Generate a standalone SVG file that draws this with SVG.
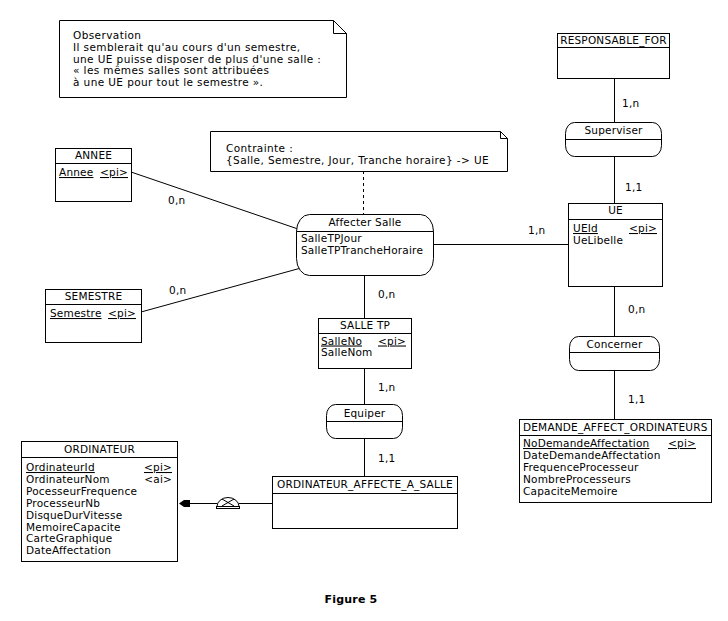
<svg xmlns="http://www.w3.org/2000/svg" width="728" height="621" viewBox="0 0 728 621">
<style>
text{font-family:"DejaVu Sans",Verdana,sans-serif;font-size:10.5px;letter-spacing:0.2px;fill:#000}
.n{letter-spacing:0.4px}
.c{text-anchor:middle}
.e{text-anchor:end}
.u{text-decoration:underline}
.box{fill:#fff;stroke:#000;stroke-width:1}
.ln{stroke:#000;stroke-width:1;fill:none}
.fig{font-weight:bold;font-size:11px}
</style>
<rect width="728" height="621" fill="#fff"/>
<g id="connectors">
<line class="ln" x1="131" y1="172" x2="298" y2="229"/>
<line class="ln" x1="141" y1="312" x2="301" y2="268"/>
<line class="ln" x1="433" y1="244.5" x2="568" y2="244.5"/>
<line class="ln" x1="364.5" y1="275" x2="364.5" y2="318"/>
<line class="ln" x1="363.5" y1="171" x2="363.5" y2="214" stroke-dasharray="3,3"/>
<line class="ln" x1="614.5" y1="78" x2="614.5" y2="122"/>
<line class="ln" x1="614.5" y1="156" x2="614.5" y2="203"/>
<line class="ln" x1="614.5" y1="286" x2="614.5" y2="336"/>
<line class="ln" x1="614.5" y1="370" x2="614.5" y2="419"/>
<line class="ln" x1="364.5" y1="368" x2="364.5" y2="404"/>
<line class="ln" x1="364.5" y1="438" x2="364.5" y2="476"/>
<line class="ln" x1="272" y1="503.5" x2="239" y2="503.5"/>
<line class="ln" x1="217" y1="503.5" x2="186" y2="503.5"/>
<polygon points="179,503.5 184,500 190,500 190,507 184,507" fill="#000"/>
<path class="ln" d="M217,506.5 A11,9 0 0 1 239,506.5 Z" fill="#fff"/>
<rect x="216.5" y="506.5" width="23" height="2" fill="#fff" stroke="#000" stroke-width="1"/>
<line class="ln" x1="222" y1="499" x2="234" y2="506"/>
<line class="ln" x1="234" y1="499" x2="222" y2="506"/>
<text x="168" y="204">0,n</text>
<text x="169" y="294">0,n</text>
<text x="528" y="234">1,n</text>
<text x="378" y="298">0,n</text>
<text x="622" y="107">1,n</text>
<text x="625" y="191">1,1</text>
<text x="628" y="313">0,n</text>
<text x="628" y="403">1,1</text>
<text x="378" y="391">1,n</text>
<text x="378" y="462">1,1</text>
</g>
<g id="note-observation">
<path class="box" d="M59.5,20.5 H333.5 L346.5,33.5 V97.5 H59.5 Z"/>
<path class="ln" d="M333.5,20.5 V33.5 H346.5"/>
<text class="n" x="73" y="39">Observation</text>
<text class="n" x="73" y="51">Il semblerait qu'au cours d'un semestre,</text>
<text class="n" x="73" y="62.5">une UE puisse disposer de plus d'une salle :</text>
<text class="n" x="73" y="74">« les mêmes salles sont attribuées</text>
<text class="n" x="73" y="86">à une UE pour tout le semestre ».</text>
</g>
<g id="note-contrainte">
<path class="box" d="M210.5,131.5 H500.5 L507.5,138.5 V171.5 H210.5 Z"/>
<path class="ln" d="M500.5,131.5 V138.5 H507.5"/>
<text class="n" x="226" y="152">Contrainte :</text>
<text class="n" x="226" y="163.5">{Salle, Semestre, Jour, Tranche horaire} -&gt; UE</text>
</g>
<g id="ANNEE">
<rect class="box" x="55.5" y="148.5" width="76" height="53"/>
<line class="ln" x1="55.5" y1="163.5" x2="131.5" y2="163.5"/>
<text class="c" x="93.5" y="159">ANNEE</text>
<text class="u" x="59" y="176">Annee</text>
<text class="u e" x="128" y="176">&lt;pi&gt;</text>
</g>
<g id="SEMESTRE">
<rect class="box" x="45.5" y="289.5" width="96" height="53"/>
<line class="ln" x1="45.5" y1="304.5" x2="141.5" y2="304.5"/>
<text class="c" x="93.5" y="300">SEMESTRE</text>
<text class="u" x="50" y="317">Semestre</text>
<text class="u e" x="136" y="317">&lt;pi&gt;</text>
</g>
<g id="RESPONSABLE_FOR">
<rect class="box" x="557.5" y="33.5" width="112" height="45"/>
<line class="ln" x1="557.5" y1="47.5" x2="669.5" y2="47.5"/>
<text class="c" x="613.5" y="44">RESPONSABLE_FOR</text>
</g>
<g id="Superviser">
<rect class="box" x="565.5" y="122.5" width="96" height="34" rx="9" ry="11"/>
<line class="ln" x1="565.5" y1="139.5" x2="661.5" y2="139.5"/>
<text class="c" x="613.5" y="134">Superviser</text>
</g>
<g id="UE">
<rect class="box" x="568.5" y="203.5" width="94" height="83"/>
<line class="ln" x1="568.5" y1="219.5" x2="662.5" y2="219.5"/>
<text class="c" x="615.5" y="214">UE</text>
<text class="u" x="573" y="232">UEId</text>
<text class="u e" x="657" y="232">&lt;pi&gt;</text>
<text x="573" y="243.5">UeLibelle</text>
</g>
<g id="Affecter_Salle">
<rect class="box" x="296.5" y="214.5" width="137" height="61" rx="13" ry="17"/>
<line class="ln" x1="296.5" y1="231.5" x2="433.5" y2="231.5"/>
<text class="c" x="365" y="226">Affecter Salle</text>
<text x="301" y="242">SalleTPJour</text>
<text x="301" y="253.5">SalleTPTrancheHoraire</text>
</g>
<g id="SALLE_TP">
<rect class="box" x="318.5" y="318.5" width="93" height="50"/>
<line class="ln" x1="318.5" y1="333.5" x2="411.5" y2="333.5"/>
<text class="c" x="365" y="329">SALLE TP</text>
<text class="u" x="321" y="344.5">SalleNo</text>
<text class="u e" x="406" y="344.5">&lt;pi&gt;</text>
<text x="321" y="356">SalleNom</text>
</g>
<g id="Equiper">
<rect class="box" x="326.5" y="404.5" width="76" height="34" rx="9" ry="11"/>
<line class="ln" x1="326.5" y1="421.5" x2="402.5" y2="421.5"/>
<text class="c" x="364.5" y="417">Equiper</text>
</g>
<g id="Concerner">
<rect class="box" x="569.5" y="336.5" width="90" height="34" rx="9" ry="11"/>
<line class="ln" x1="569.5" y1="352.5" x2="659.5" y2="352.5"/>
<text class="c" x="614.5" y="348">Concerner</text>
</g>
<g id="DEMANDE_AFFECT_ORDINATEURS">
<rect class="box" x="519.5" y="419.5" width="192" height="83"/>
<line class="ln" x1="519.5" y1="435.5" x2="711.5" y2="435.5"/>
<text x="523" y="431">DEMANDE_AFFECT_ORDINATEURS</text>
<text class="u" x="523" y="447">NoDemandeAffectation</text>
<text class="u e" x="696" y="447">&lt;pi&gt;</text>
<text x="523" y="459">DateDemandeAffectation</text>
<text x="523" y="471">FrequenceProcesseur</text>
<text x="523" y="483">NombreProcesseurs</text>
<text x="523" y="495">CapaciteMemoire</text>
</g>
<g id="ORDINATEUR_AFFECTE_A_SALLE">
<rect class="box" x="272.5" y="476.5" width="185" height="52"/>
<line class="ln" x1="272.5" y1="493.5" x2="457.5" y2="493.5"/>
<text class="c" x="365" y="488">ORDINATEUR_AFFECTE_A_SALLE</text>
</g>
<g id="ORDINATEUR">
<rect class="box" x="21.5" y="441.5" width="156" height="120"/>
<line class="ln" x1="21.5" y1="457.5" x2="177.5" y2="457.5"/>
<text class="c" x="99.5" y="453">ORDINATEUR</text>
<text class="u" x="26" y="471">OrdinateurId</text>
<text class="u e" x="172" y="471">&lt;pi&gt;</text>
<text x="26" y="482.5">OrdinateurNom</text>
<text class="e" x="172" y="482.5">&lt;ai&gt;</text>
<text x="26" y="494.5">PocesseurFrequence</text>
<text x="26" y="506.5">ProcesseurNb</text>
<text x="26" y="518.5">DisqueDurVitesse</text>
<text x="26" y="530.5">MemoireCapacite</text>
<text x="26" y="542">CarteGraphique</text>
<text x="26" y="554">DateAffectation</text>
</g>
<text class="c fig" x="351" y="603">Figure 5</text>
</svg>
